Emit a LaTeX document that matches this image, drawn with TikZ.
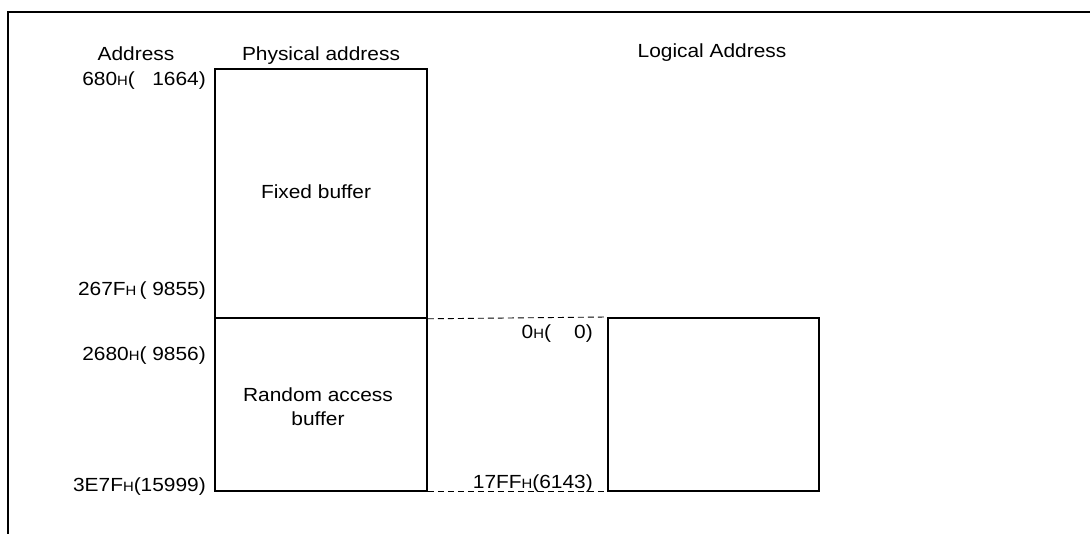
\documentclass[tikz,border=0pt]{standalone}
\usepackage{fontspec}
\setmainfont[FakeStretch=1.1]{Liberation Sans}
\newcommand{\hx}{{\fontsize{13.5pt}{13.5pt}\selectfont H}}
\begin{document}
\begin{tikzpicture}[x=1pt,y=-1pt,
  every node/.style={inner sep=0pt,font=\fontsize{19pt}{22pt}\selectfont},
  membox/.style={draw,line width=1.8pt,anchor=north west},
  lbl/.style={anchor=base east},
  ttl/.style={anchor=base},
  conn/.style={dashed,line width=0.9pt,dash pattern=on 6pt off 4pt}]
\useasboundingbox (0,0) rectangle (1090,534);
\draw[line width=2.8pt] (8,534) -- (8,12) -- (1090,12);
\node[membox,minimum width=212pt,minimum height=249pt] (fixed) at (214,68) {};
\node[membox,minimum width=212pt,minimum height=173pt] (random) at (214,317) {};
\node[membox,minimum width=211pt,minimum height=173pt] (logical) at (607,317) {};
\draw[conn] (fixed.south east) -- (logical.north west);
\draw[conn] (random.south east) -- (logical.south west);
\node[ttl] (tadr) at (136,61) {Address};
\node[ttl] (tphy) at (321,61) {Physical address};
\node[ttl] (tlog) at (712,58) {Logical Address};
\node[ttl] (tfix) at (316,199) {Fixed buffer};
\node[ttl] (trnd) at (318,402) {Random access};
\node[ttl] (trnd2) at (318,426) {buffer};
\node[lbl] (a1) at (206,86) {680\hx(\phantom{0}\ 1664)};
\node[lbl] (a2) at (206,296) {267F\hx\,(\ 9855)};
\node[lbl] (a3) at (206,361) {2680\hx(\ 9856)};
\node[lbl] (a4) at (206,491) {3E7F\hx(15999)};
\node[lbl] (b1) at (593,339) {0\hx(\phantom{0}\ \ 0)};
\node[lbl] (b2) at (593,488) {17FF\hx(6143)};
\end{tikzpicture}
\end{document}
